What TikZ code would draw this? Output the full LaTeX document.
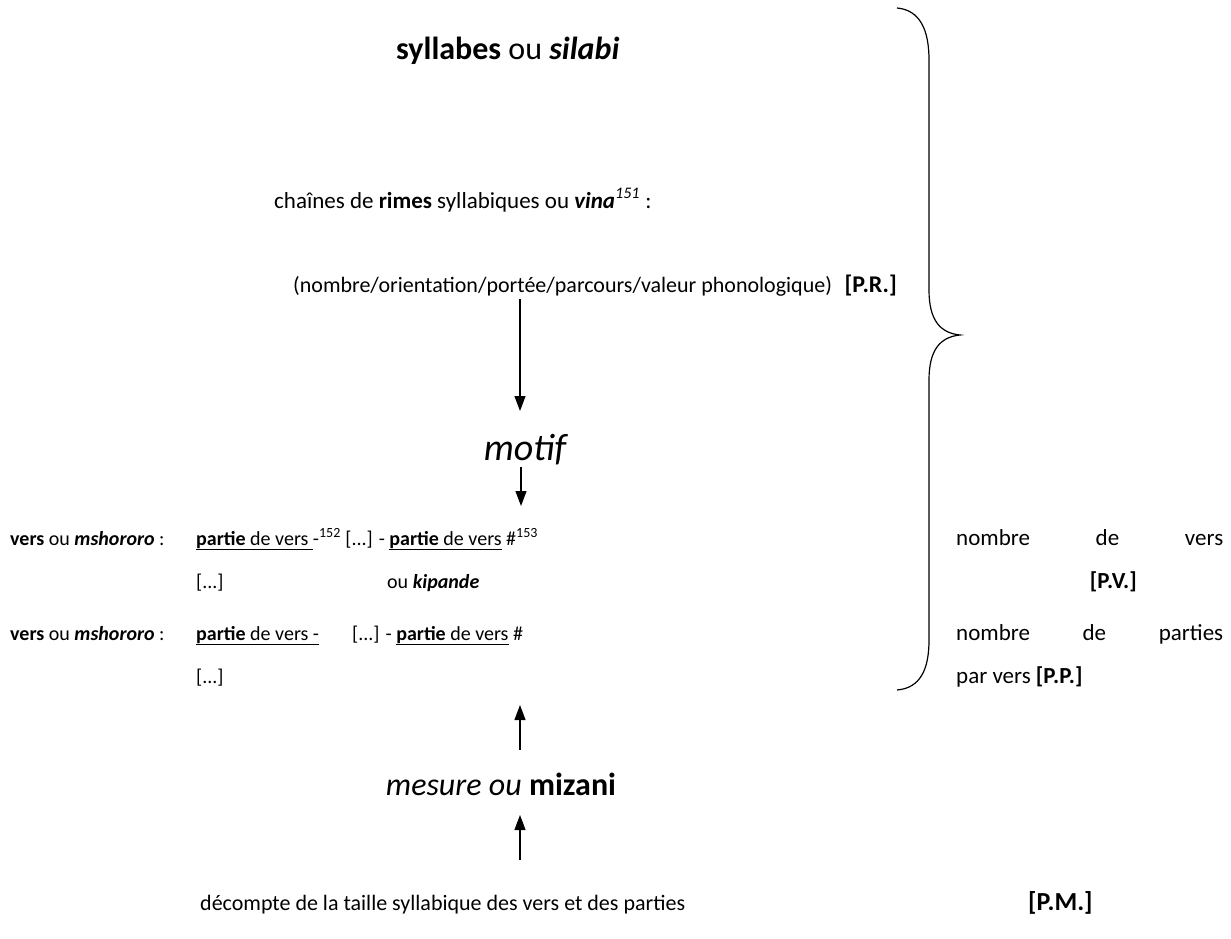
\documentclass[tikz,border=0pt]{standalone}
\usepackage{fontspec}
\setmainfont{Carlito}
\usetikzlibrary{arrows.meta}
\begin{document}
\begin{tikzpicture}[x=1pt,y=-1pt,
  txt/.style={anchor=base west,inner sep=0pt,font=\fontsize{20}{24}\selectfont},
  rcol/.style={anchor=base west,inner sep=0pt,font=\fontsize{23}{27}\selectfont},
  arr/.style={line width=1.1pt,-{Triangle[width=11pt,length=15pt]}},
  bracestyle/.style={line width=1.2pt}]
\useasboundingbox (0,0) rectangle (1231,939);
% top
\node[txt,font=\fontsize{32}{36}\selectfont] (syl) at (396,60) {\textbf{syllabes} ou \textbf{\textit{silabi}}};
\node[txt,font=\fontsize{23}{27}\selectfont] (chain) at (274,208) {chaînes de \textbf{rimes} syllabiques ou \textbf{\textit{vina}}\textsuperscript{\textit{151}} :};
\node[txt,font=\fontsize{22}{26}\selectfont] (nomb) at (293,292) {(nombre/orientation/portée/parcours/valeur phonologique)};
\node[txt,font=\fontsize{24}{28}\selectfont\bfseries,anchor=base east] (pr) at (897,292) {[P.R.]};
\node[txt,font=\fontsize{38}{42}\selectfont\itshape,anchor=base] (motif) at (525,460) {motif};
% rows
\node[txt] (v1) at (10,545) {\textbf{vers} ou \textbf{\textit{mshororo}} :};
\node[txt] (p1) at (196,545) {\underline{\textbf{partie} de vers }-\textsuperscript{152} [...] - \underline{\textbf{partie} de vers} \#\textsuperscript{153}};
\node[rcol] (n1) at (956,545) {\makebox[267pt][s]{nombre\hfill de\hfill vers}};
\node[txt] (d2) at (196,588) {[...]};
\node[txt] (k2) at (387,588) {ou \textbf{\textit{kipande}}};
\node[rcol,anchor=base east] (pv) at (1137,588) {\textbf{[P.V.]}};
\node[txt] (v3) at (10,640) {\textbf{vers} ou \textbf{\textit{mshororo}} :};
\node[txt] (p3) at (196,640) {\underline{\textbf{partie} de vers -}};
\node[txt] (q3) at (352,640) {[...] - \underline{\textbf{partie} de vers} \#};
\node[rcol] (n3) at (956,640) {\makebox[267pt][s]{nombre\hfill de\hfill parties}};
\node[txt] (d4) at (196,683) {[...]};
\node[rcol] (pp) at (956,683) {par vers \textbf{[P.P.]}};
% bottom
\node[txt,font=\fontsize{32}{36}\selectfont,anchor=base] (mes) at (501,795) {\textit{mesure ou} \textbf{mizani}};
\node[txt,font=\fontsize{22}{26}\selectfont] (dec) at (200,910) {décompte de la taille syllabique des vers et des parties};
\node[txt,font=\fontsize{26}{30}\selectfont] (pm) at (1028,910) {\textbf{[P.M.]}};
% arrows
\coordinate (a1s) at (520,299);
\coordinate (a1e) at (520,411);
\coordinate (a2s) at (521,467);
\coordinate (a2e) at (521,506);
\coordinate (a3s) at (520,750);
\coordinate (a3e) at (520,705);
\coordinate (a4s) at (520,860);
\coordinate (a4e) at (520,815);
\draw[arr] (a1s) -- (a1e);
\draw[arr] (a2s) -- (a2e);
\draw[arr] (a3s) -- (a3e);
\draw[arr] (a4s) -- (a4e);
% brace
\draw[bracestyle] (897,8) .. controls (920,10) and (929,30) .. (929,60)
  -- (929,290) .. controls (929,320) and (940,333) .. (960,335)
  .. controls (940,337) and (929,350) .. (929,380)
  -- (929,640) .. controls (929,670) and (920,688) .. (897,690);
\end{tikzpicture}
\end{document}
